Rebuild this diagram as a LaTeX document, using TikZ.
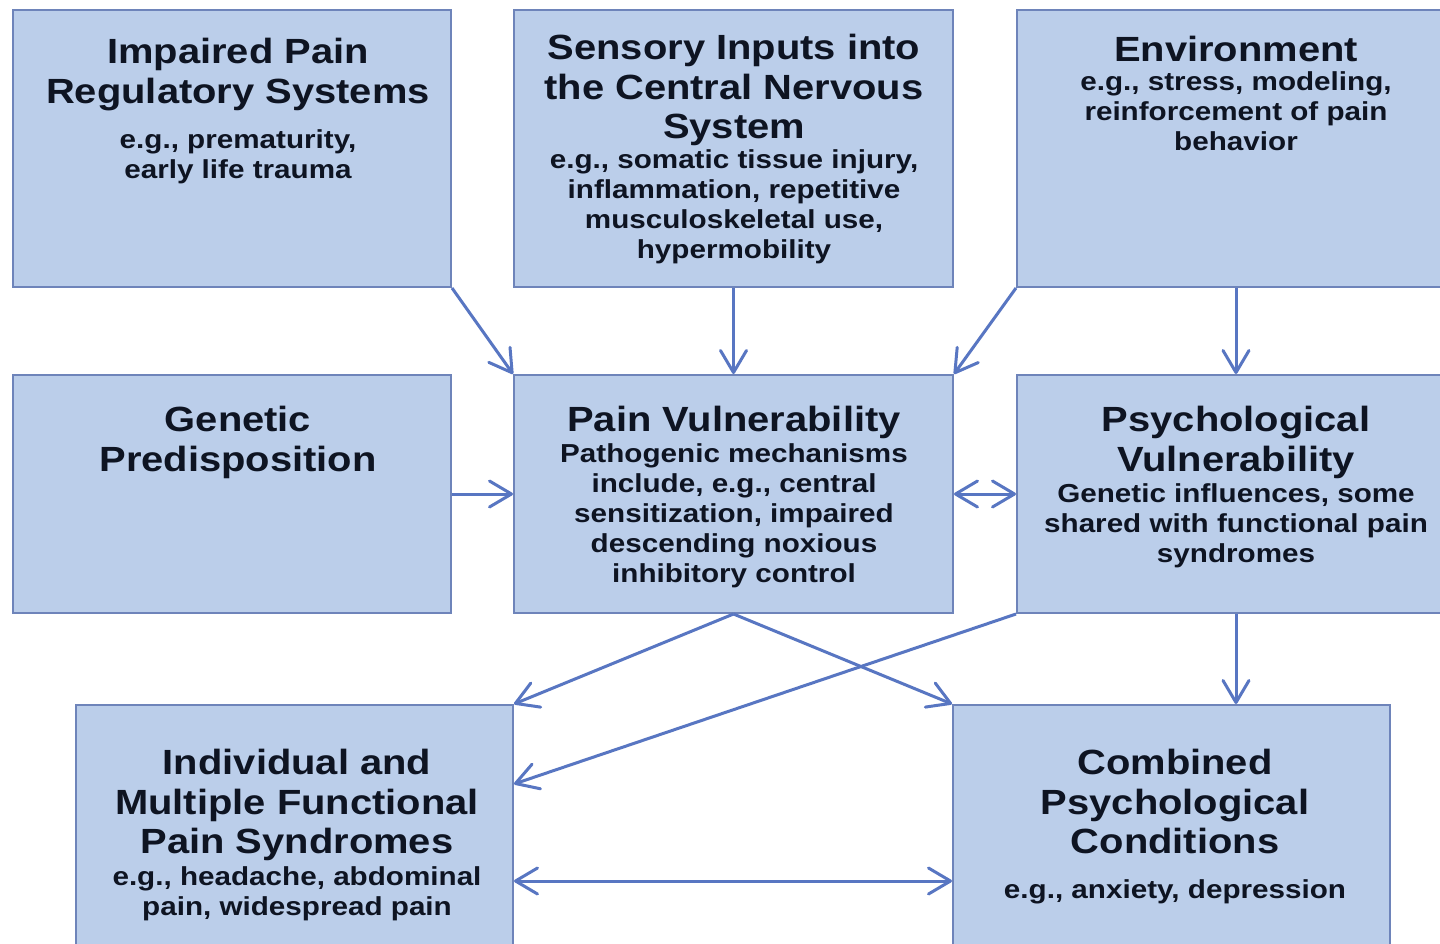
\documentclass[tikz,border=0pt]{standalone}
\usepackage{fontspec}
\setmainfont{Liberation Sans}[FakeStretch=1.14]
\usetikzlibrary{arrows.meta,fit,calc}
\definecolor{boxfill}{RGB}{187,206,234}
\definecolor{boxline}{RGB}{110,132,186}
\definecolor{arrc}{RGB}{88,118,194}
\definecolor{txt}{RGB}{14,20,34}
\tikzset{
  box/.style={draw=boxline, fill=boxfill, line width=1pt, inner sep=0pt, rectangle},
  ttl/.style={font=\bfseries\fontsize{17.5}{19.75}\selectfont, align=center, inner sep=0pt, text=txt, anchor=north},
  sub/.style={font=\bfseries\fontsize{13}{15}\selectfont, align=center, inner sep=0pt, text=txt, anchor=north},
  arr/.style={draw=arrc, line width=1.5pt, -{Straight Barb[length=11pt,width=13pt,round]}},
  darr/.style={draw=arrc, line width=1.5pt, {Straight Barb[length=11pt,width=13pt,round]}-{Straight Barb[length=11pt,width=13pt,round]}}
}
\begin{document}
\begin{tikzpicture}[x=0.5pt,y=-0.5pt]
\useasboundingbox[fill=white] (0,0) rectangle (1440,943);
% boxes
\node[box, fit={(13,10) (451,287)}] (A) {};
\node[box, fit={(514,10) (953,287)}] (B) {};
\node[box, fit={(1017,10) (1455,287)}] (C) {};
\node[box, fit={(13,375) (451,613)}] (D) {};
\node[box, fit={(514,375) (953,613)}] (E) {};
\node[box, fit={(1017,375) (1455,613)}] (F) {};
\node[box, fit={(76,705) (513,955)}] (G) {};
\node[box, fit={(953,705) (1390,955)}] (H) {};
% texts
\node[ttl] (At) at (238,38) {Impaired Pain\\Regulatory Systems};
\node[sub] (As) at (238,129) {e.g., prematurity,\\early life trauma};
\node[ttl] (Bt) at (734,34) {Sensory Inputs into\\the Central Nervous\\System};
\node[sub] (Bs) at (734,149) {e.g., somatic tissue injury,\\inflammation, repetitive\\musculoskeletal use,\\hypermobility};
\node[ttl] (Ct) at (1236,36) {Environment};
\node[sub] (Cs) at (1236,71) {e.g., stress, modeling,\\reinforcement of pain\\behavior};
\node[ttl] (Dt) at (238,406) {Genetic\\Predisposition};
\node[ttl] (Et) at (734,406) {Pain Vulnerability};
\node[sub] (Es) at (734,443) {Pathogenic mechanisms\\include, e.g., central\\sensitization, impaired\\descending noxious\\inhibitory control};
\node[ttl] (Ft) at (1236,406) {Psychological\\Vulnerability};
\node[sub] (Fs) at (1236,483) {Genetic influences, some\\shared with functional pain\\syndromes};
\node[ttl] (Gt) at (297,749) {Individual and\\Multiple Functional\\Pain Syndromes};
\node[sub] (Gs) at (297,866) {e.g., headache, abdominal\\pain, widespread pain};
\node[ttl] (Ht) at (1175,749) {Combined\\Psychological\\Conditions};
\node[sub] (Hs) at (1175,879) {e.g., anxiety, depression};
% connector end points
\coordinate (gE) at ($(G.north east)+(0,80)$);
\coordinate (gL) at ($(G.north east)+(0,177)$);
\coordinate (hL) at ($(H.north west)+(0,177)$);
% connectors
\draw[arr] (A.south east) -- (E.north west);
\draw[arr] (B.south) -- (E.north);
\draw[arr] (C.south west) -- (E.north east);
\draw[arr] (C.south) -- (F.north);
\draw[arr] (D.east) -- (E.west);
\draw[darr] (E.east) -- (F.west);
\draw[arr] (E.south) -- (G.north east);
\draw[arr] (E.south) -- (H.north west);
\draw[arr] (F.south west) -- (gE);
\draw[arr] (F.south) -- (F.south |- H.north);
\draw[darr] (gL) -- (hL);
\end{tikzpicture}
\end{document}
